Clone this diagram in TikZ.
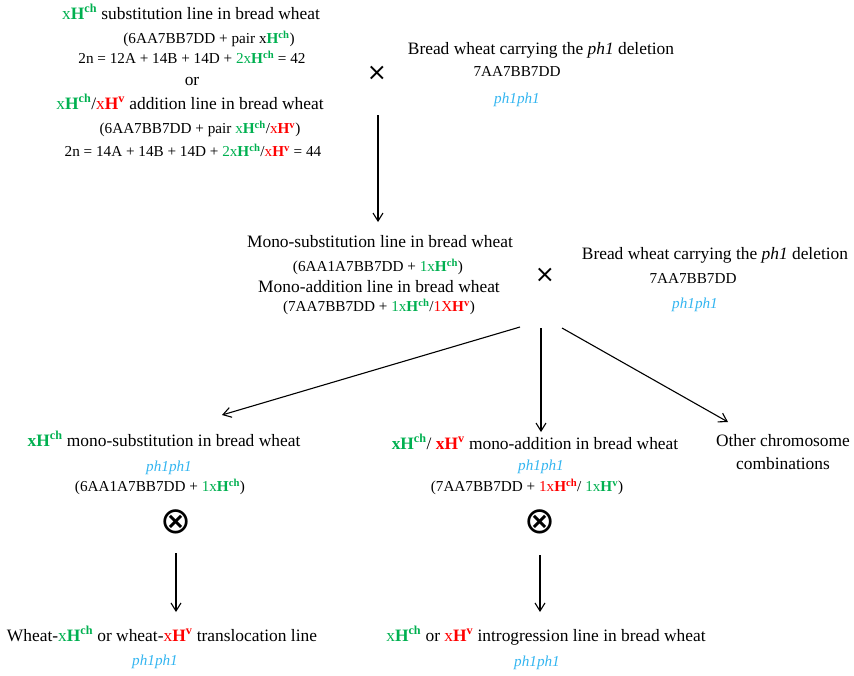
\documentclass[tikz,border=0pt]{standalone}
\usepackage{fontspec}
\setmainfont{Liberation Serif}
\newfontfamily\symfont{DejaVu Sans}
\usepackage{xcolor}
\usepackage{tikz}
\usetikzlibrary{arrows.meta}

\definecolor{grn}{HTML}{00B050}
\definecolor{rd}{HTML}{FF0000}
\definecolor{phc}{HTML}{33B5F0}
\newcommand{\gr}[1]{\textcolor{grn}{#1}}
\newcommand{\rd}[1]{\textcolor{rd}{#1}}
\newcommand{\Hch}{\textbf{H}\textsuperscript{\textbf{ch}}}
\newcommand{\Hv}{\textbf{H}\textsuperscript{\textbf{v}}}

\begin{document}
\begin{tikzpicture}[x=1pt, y=-1pt,
  font=\fontsize{17.4}{20}\selectfont, >={Straight Barb[length=8pt, width=10pt]},
  ln/.style={inner sep=0pt, text height=12pt, text depth=3.5pt},
  sm/.style={ln, font=\fontsize{15.2}{18}\selectfont, text height=10.5pt, text depth=3pt},
  ph/.style={sm, text=phc, font=\fontsize{15.2}{18}\selectfont\itshape},
  cross/.style={inner sep=0pt, font=\symfont\fontsize{24}{24}\selectfont},
  self/.style={inner sep=0pt, font=\symfont\fontsize{37}{37}\selectfont},
  ar/.style={->, line width=1.1pt}]
\useasboundingbox (0,0) rectangle (854,675);
% parents
\node[ln] (sub) at (191,15) {\gr{x\Hch} substitution line in bread wheat};
\node[sm] (subk) at (209,40) {(6AA7BB7DD + pair x\gr{\Hch})};
\node[sm] (subn) at (192,60) {2n = 12A + 14B + 14D + \gr{2x\Hch} = 42};
\node[ln] (or) at (192,81) {or};
\node[ln] (add) at (190,105) {\gr{x\Hch}/\rd{x\Hv} addition line in bread wheat};
\node[sm] (addk) at (200,130) {(6AA7BB7DD + pair \gr{x\Hch}/\rd{x\Hv})};
\node[sm] (addn) at (193,153) {2n = 14A + 14B + 14D + \gr{2x\Hch}/\rd{x\Hv} = 44};
\node[cross] (x1) at (377,73) {×};
\node[ln] (del1) at (541,50) {Bread wheat carrying the \textit{ph1} deletion};
\node[sm] (del1k) at (517,73) {7AA7BB7DD};
\node[ph] (del1g) at (517,100) {ph1ph1};
% F1
\node[ln] (ms) at (380,243) {Mono-substitution line in bread wheat};
\node[sm] (msk) at (378,268) {(6AA1A7BB7DD + \gr{1x\Hch})};
\node[ln] (ma) at (379,288) {Mono-addition line in bread wheat};
\node[sm] (mak) at (379,308) {(7AA7BB7DD + \gr{1x\Hch}/\rd{1X\Hv})};
\node[cross] (x2) at (545,275) {×};
\node[ln] (del2) at (715,255) {Bread wheat carrying the \textit{ph1} deletion};
\node[sm] (del2k) at (693,280) {7AA7BB7DD};
\node[ph] (del2g) at (695,305) {ph1ph1};
% selections
\node[ln] (bs) at (164,442) {\gr{\textbf{xH}\textsuperscript{\textbf{ch}}} mono-substitution in bread wheat};
\node[ph] (bsg) at (169,468) {ph1ph1};
\node[sm] (bsk) at (160,488) {(6AA1A7BB7DD + \gr{1x\Hch})};
\node[self] (o1) at (176,522) {⊗};
\node[ln] (ba) at (535,445) {\gr{\textbf{xH}\textsuperscript{\textbf{ch}}}/ \rd{\textbf{xH}\textsuperscript{\textbf{v}}} mono-addition in bread wheat};
\node[ph] (bag) at (541,467) {ph1ph1};
\node[sm] (bak) at (527,488) {(7AA7BB7DD + \rd{1x\Hch}/ \gr{1x\Hv})};
\node[self] (o2) at (540,522) {⊗};
\node[ln] (oth) at (783,442) {Other chromosome};
\node[ln] (othb) at (783,465) {combinations};
% lines
\node[ln] (tr) at (162,637) {Wheat-\gr{x\Hch} or wheat-\rd{x\Hv} translocation line};
\node[ph] (trg) at (155,662) {ph1ph1};
\node[ln] (ig) at (546,637) {\gr{x\Hch} or \rd{x\Hv} introgression line in bread wheat};
\node[ph] (igg) at (537,663) {ph1ph1};
% arrows
\coordinate (a0) at (378,115);
\coordinate (m1) at (520,327);
\coordinate (m2) at (541,328);
\coordinate (m3) at (562,328);
\coordinate (e1) at (222,415);
\coordinate (e3) at (728,422);
\draw[ar, shorten >=13pt] (a0) -- (a0 |- ms.north);
\draw[ar] (m1) -- (e1);
\draw[ar, shorten >=5pt] (m2) -- (m2 |- ba.north);
\draw[ar] (m3) -- (e3);
\draw[ar] ([yshift=-31pt]o1.center) -- ([yshift=-90pt]o1.center);
\draw[ar] ([yshift=-33pt]o2.center) -- ([yshift=-90pt]o2.center);
\end{tikzpicture}
\end{document}
